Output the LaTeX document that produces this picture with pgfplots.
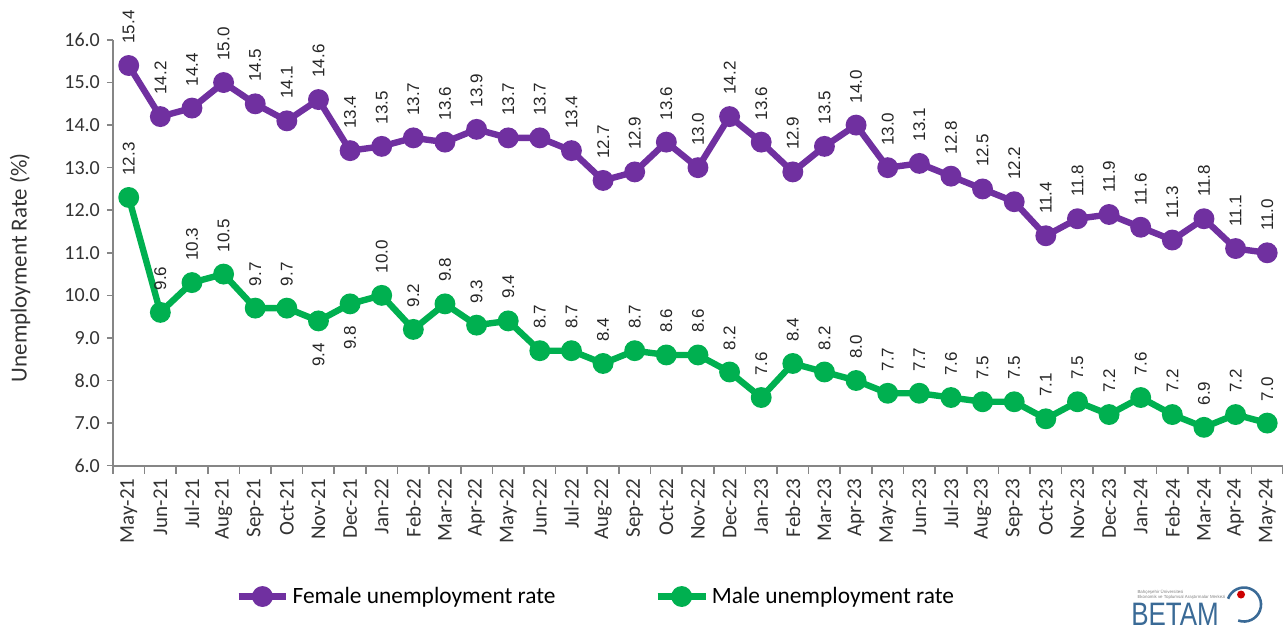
\documentclass[border=0pt]{standalone}
\usepackage{fontspec}
\setmainfont{Carlito}
\newfontfamily\arial{Liberation Sans}
\usepackage{pgfplots}
\pgfplotsset{compat=1.18}
\usepackage{pgfplotstable}

\definecolor{fem}{HTML}{7030A0}
\definecolor{mal}{HTML}{00B050}
\definecolor{axgray}{HTML}{868686}
\definecolor{betam}{HTML}{3A6A96}

% x = month index (0 = May-21), f = female, m = male
\pgfplotstableread{
x f m
0 15.4 12.3
1 14.2 9.6
2 14.4 10.3
3 15.0 10.5
4 14.5 9.7
5 14.1 9.7
6 14.6 9.4
7 13.4 9.8
8 13.5 10.0
9 13.7 9.2
10 13.6 9.8
11 13.9 9.3
12 13.7 9.4
13 13.7 8.7
14 13.4 8.7
15 12.7 8.4
16 12.9 8.7
17 13.6 8.6
18 13.0 8.6
19 14.2 8.2
20 13.6 7.6
21 12.9 8.4
22 13.5 8.2
23 14.0 8.0
24 13.0 7.7
25 13.1 7.7
26 12.8 7.6
27 12.5 7.5
28 12.2 7.5
29 11.4 7.1
30 11.8 7.5
31 11.9 7.2
32 11.6 7.6
33 11.3 7.2
34 11.8 6.9
35 11.1 7.2
36 11.0 7.0
}\data

\begin{document}
\begin{tikzpicture}
\begin{axis}[
  name=ax,
  scale only axis,
  width=585.5pt, height=213pt,
  xmin=-0.5, xmax=36.5,
  ymin=6, ymax=16,
  ytick={6,7,...,16},
  xtick={0,1,...,36},
  xticklabels={May-21,Jun-21,Jul-21,Aug-21,Sep-21,Oct-21,Nov-21,Dec-21,
    Jan-22,Feb-22,Mar-22,Apr-22,May-22,Jun-22,Jul-22,Aug-22,Sep-22,Oct-22,Nov-22,Dec-22,
    Jan-23,Feb-23,Mar-23,Apr-23,May-23,Jun-23,Jul-23,Aug-23,Sep-23,Oct-23,Nov-23,Dec-23,
    Jan-24,Feb-24,Mar-24,Apr-24,May-24},
  minor xtick={-0.5,0.5,...,36.5},
  major x tick style={draw=none},
  minor tick length=4pt,
  major tick length=3pt,
  tick align=outside,
  axis x line*=bottom, axis y line*=left,
  axis line style={axgray, line width=1pt, -},
  tick style={axgray, line width=0.8pt},
  /pgf/number format/assume math mode=true,
  yticklabel={\pgfmathprintnumber[fixed,fixed zerofill,precision=1]{\tick}},
  yticklabel style={font=\fontsize{10}{12}\selectfont, text=black!80},
  xticklabel style={font=\fontsize{10.5}{12}\selectfont, rotate=90, anchor=east, text=black!80},
  ylabel={Unemployment Rate (\%)},
  ylabel style={font=\fontsize{11.5}{13}\selectfont, text=black!80,
    at={(axis description cs:-0.0794,0.465)}, anchor=center},
  legend columns=2,
  legend style={at={(axis description cs:0.413,-0.3075)}, anchor=center,
    draw=none, font=\fontsize{11.7}{14}\selectfont,
    /tikz/every even column/.append style={column sep=48pt},
    nodes={inner xsep=1.5pt}},
  legend image code/.code={
    \draw[mark repeat=2,mark phase=2] plot coordinates {(0pt,0pt) (12pt,0pt) (24pt,0pt)};},
  nodes near coords={\pgfmathprintnumber[fixed,fixed zerofill,precision=1]{\pgfplotspointmeta}},
  every node near coord/.append style={font=\arial\fontsize{8.5}{10}\selectfont,
    text=black!85, rotate=90, inner sep=2pt, outer sep=9pt},
]
\addplot[fem, line width=3.2pt, mark=*, mark size=3.6pt,
  every node near coord/.append style={anchor=west}]
  table[x=x, y=f] {\data};
\addlegendentry{Female unemployment rate}
\addplot[mal, line width=3.2pt, mark=*, mark size=3.6pt,
  coordinate style/.condition={\coordindex==6 || \coordindex==7}{anchor=east},
  coordinate style/.condition={\coordindex!=6 && \coordindex!=7}{anchor=west}]
  table[x=x, y=m] {\data};
\addlegendentry{Male unemployment rate}
\end{axis}
% BETAM logo
\node[betam, font=\arial\fontsize{13}{14}\selectfont, yscale=1.25] at ([xshift=-54pt,yshift=-74.5pt]ax.south east) {BETAM};
\node[gray, font=\arial\fontsize{2.2}{2.6}\selectfont, align=left, anchor=south west, inner sep=0pt]
  at ([xshift=-73pt,yshift=-67pt]ax.south east) {Bahçeşehir Üniversitesi\\Ekonomik ve Toplumsal Araştırmalar Merkezi};
\draw[betam, line width=1.3pt] ([xshift=-19.5pt,yshift=-69.5pt]ax.south east) ++(160:8.5pt) arc[start angle=160, end angle=-110, radius=8.5pt];
\fill[red!80!black] ([xshift=-21pt,yshift=-64.5pt]ax.south east) circle[radius=2pt];
\pgfresetboundingbox
\path ([xshift=-56.5pt,yshift=20pt]ax.north west) rectangle ([yshift=-82pt]ax.south east);
\end{tikzpicture}
\end{document}
